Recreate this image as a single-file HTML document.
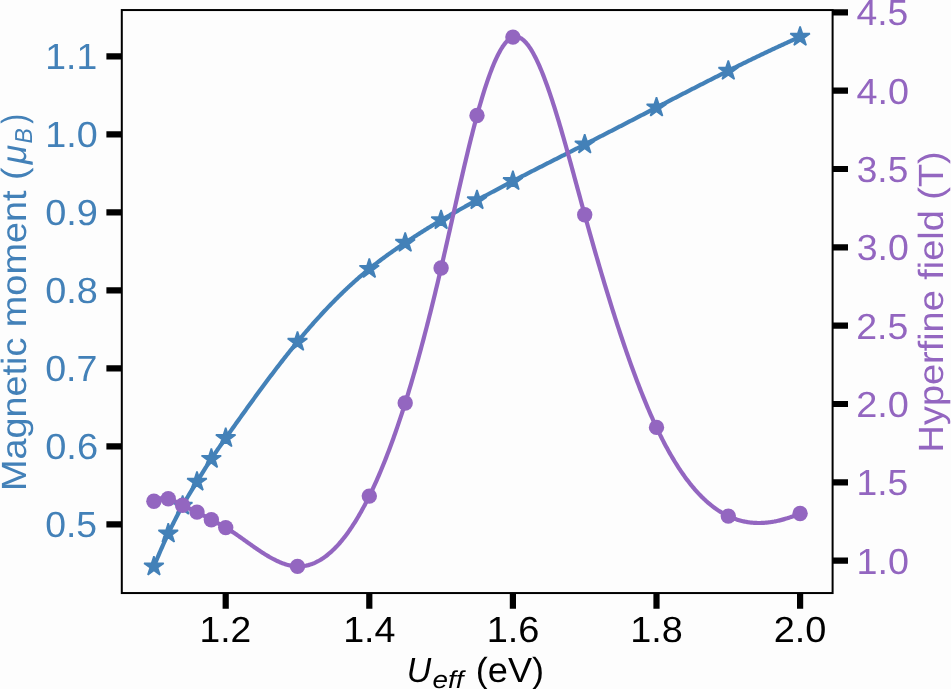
<!DOCTYPE html><html><head><meta charset="utf-8"><style>html,body{margin:0;padding:0;background:#fdfdfd;overflow:hidden}svg{display:block;will-change:transform}text{font-family:"Liberation Sans",sans-serif;font-kerning:none;text-rendering:geometricPrecision}</style></head><body>
<svg width="951" height="689" viewBox="0 0 951 689">
<rect x="0" y="0" width="951" height="689" fill="#fdfdfd"/>
<path d="M153.90,566.50 L154.82,564.22 L155.75,561.97 L156.67,559.74 L157.60,557.53 L158.52,555.34 L159.45,553.18 L160.37,551.03 L161.30,548.91 L162.22,546.81 L163.14,544.73 L164.07,542.67 L164.99,540.63 L165.92,538.61 L166.84,536.62 L167.77,534.64 L168.69,532.69 L169.62,530.76 L170.54,528.85 L171.46,526.95 L172.39,525.08 L173.31,523.23 L174.24,521.40 L175.16,519.59 L176.09,517.80 L177.01,516.03 L177.94,514.27 L178.86,512.54 L179.78,510.83 L180.71,509.14 L181.63,507.46 L182.56,505.81 L183.48,504.17 L184.41,502.56 L185.33,500.96 L186.26,499.37 L187.18,497.80 L188.11,496.24 L189.03,494.70 L189.95,493.16 L190.88,491.64 L191.80,490.12 L192.73,488.61 L193.65,487.10 L194.58,485.60 L195.50,484.10 L196.43,482.60 L197.35,481.10 L198.27,479.60 L199.20,478.11 L200.12,476.61 L201.05,475.12 L201.97,473.63 L202.90,472.14 L203.82,470.66 L204.75,469.19 L205.67,467.72 L206.59,466.25 L207.52,464.80 L208.44,463.36 L209.37,461.92 L210.29,460.50 L211.22,459.09 L212.14,457.69 L213.07,456.30 L213.99,454.92 L214.91,453.56 L215.84,452.20 L216.76,450.85 L217.69,449.51 L218.61,448.17 L219.54,446.85 L220.46,445.52 L221.39,444.21 L222.31,442.89 L223.23,441.58 L224.16,440.28 L225.08,438.97 L226.01,437.66 L226.93,436.36 L227.86,435.06 L228.78,433.75 L229.71,432.45 L230.63,431.14 L231.55,429.84 L232.48,428.54 L233.40,427.24 L234.33,425.94 L235.25,424.64 L236.18,423.34 L237.10,422.04 L238.03,420.74 L238.95,419.45 L239.88,418.15 L240.80,416.86 L241.72,415.57 L242.65,414.27 L243.57,412.98 L244.50,411.69 L245.42,410.41 L246.35,409.12 L247.27,407.84 L248.20,406.55 L249.12,405.27 L250.04,403.99 L250.97,402.71 L251.89,401.44 L252.82,400.16 L253.74,398.89 L254.67,397.62 L255.59,396.35 L256.52,395.08 L257.44,393.82 L258.36,392.56 L259.29,391.30 L260.21,390.04 L261.14,388.78 L262.06,387.53 L262.99,386.28 L263.91,385.03 L264.84,383.78 L265.76,382.54 L266.68,381.30 L267.61,380.06 L268.53,378.82 L269.46,377.59 L270.38,376.36 L271.31,375.14 L272.23,373.91 L273.16,372.69 L274.08,371.47 L275.00,370.26 L275.93,369.05 L276.85,367.84 L277.78,366.63 L278.70,365.43 L279.63,364.23 L280.55,363.04 L281.48,361.84 L282.40,360.66 L283.32,359.47 L284.25,358.29 L285.17,357.11 L286.10,355.94 L287.02,354.77 L287.95,353.61 L288.87,352.44 L289.80,351.29 L290.72,350.13 L291.65,348.98 L292.57,347.84 L293.49,346.70 L294.42,345.56 L295.34,344.43 L296.27,343.30 L297.19,342.17 L298.12,341.05 L299.04,339.94 L299.97,338.83 L300.89,337.72 L301.81,336.62 L302.74,335.52 L303.66,334.43 L304.59,333.34 L305.51,332.26 L306.44,331.18 L307.36,330.11 L308.29,329.04 L309.21,327.97 L310.13,326.91 L311.06,325.85 L311.98,324.80 L312.91,323.75 L313.83,322.71 L314.76,321.67 L315.68,320.64 L316.61,319.61 L317.53,318.59 L318.45,317.57 L319.38,316.56 L320.30,315.55 L321.23,314.54 L322.15,313.54 L323.08,312.54 L324.00,311.55 L324.93,310.57 L325.85,309.58 L326.77,308.61 L327.70,307.63 L328.62,306.67 L329.55,305.70 L330.47,304.75 L331.40,303.79 L332.32,302.84 L333.25,301.90 L334.17,300.96 L335.09,300.03 L336.02,299.10 L336.94,298.17 L337.87,297.25 L338.79,296.34 L339.72,295.43 L340.64,294.52 L341.57,293.62 L342.49,292.73 L343.42,291.84 L344.34,290.95 L345.26,290.07 L346.19,289.19 L347.11,288.32 L348.04,287.46 L348.96,286.59 L349.89,285.74 L350.81,284.89 L351.74,284.04 L352.66,283.20 L353.58,282.36 L354.51,281.53 L355.43,280.70 L356.36,279.88 L357.28,279.06 L358.21,278.25 L359.13,277.44 L360.06,276.64 L360.98,275.85 L361.90,275.05 L362.83,274.27 L363.75,273.48 L364.68,272.71 L365.60,271.94 L366.53,271.17 L367.45,270.41 L368.38,269.65 L369.30,268.90 L370.22,268.15 L371.15,267.41 L372.07,266.68 L373.00,265.94 L373.92,265.22 L374.85,264.50 L375.77,263.78 L376.70,263.06 L377.62,262.36 L378.54,261.65 L379.47,260.95 L380.39,260.25 L381.32,259.56 L382.24,258.87 L383.17,258.19 L384.09,257.51 L385.02,256.83 L385.94,256.16 L386.86,255.49 L387.79,254.82 L388.71,254.16 L389.64,253.50 L390.56,252.84 L391.49,252.19 L392.41,251.54 L393.34,250.89 L394.26,250.25 L395.18,249.61 L396.11,248.97 L397.03,248.33 L397.96,247.69 L398.88,247.06 L399.81,246.43 L400.73,245.81 L401.66,245.18 L402.58,244.56 L403.51,243.93 L404.43,243.32 L405.35,242.70 L406.28,242.08 L407.20,241.47 L408.13,240.85 L409.05,240.24 L409.98,239.63 L410.90,239.03 L411.83,238.42 L412.75,237.82 L413.67,237.21 L414.60,236.61 L415.52,236.01 L416.45,235.42 L417.37,234.82 L418.30,234.23 L419.22,233.64 L420.15,233.05 L421.07,232.46 L421.99,231.87 L422.92,231.29 L423.84,230.71 L424.77,230.13 L425.69,229.55 L426.62,228.97 L427.54,228.40 L428.47,227.82 L429.39,227.25 L430.31,226.68 L431.24,226.12 L432.16,225.55 L433.09,224.99 L434.01,224.43 L434.94,223.87 L435.86,223.31 L436.79,222.76 L437.71,222.21 L438.63,221.66 L439.56,221.11 L440.48,220.56 L441.41,220.02 L442.33,219.48 L443.26,218.94 L444.18,218.40 L445.11,217.86 L446.03,217.33 L446.95,216.80 L447.88,216.27 L448.80,215.74 L449.73,215.21 L450.65,214.68 L451.58,214.16 L452.50,213.64 L453.43,213.12 L454.35,212.60 L455.28,212.08 L456.20,211.56 L457.12,211.05 L458.05,210.54 L458.97,210.02 L459.90,209.51 L460.82,209.00 L461.75,208.49 L462.67,207.98 L463.60,207.48 L464.52,206.97 L465.44,206.46 L466.37,205.96 L467.29,205.46 L468.22,204.95 L469.14,204.45 L470.07,203.95 L470.99,203.45 L471.92,202.95 L472.84,202.45 L473.76,201.95 L474.69,201.45 L475.61,200.95 L476.54,200.45 L477.46,199.95 L478.39,199.45 L479.31,198.95 L480.24,198.46 L481.16,197.96 L482.08,197.46 L483.01,196.97 L483.93,196.47 L484.86,195.97 L485.78,195.48 L486.71,194.98 L487.63,194.48 L488.56,193.99 L489.48,193.49 L490.40,193.00 L491.33,192.51 L492.25,192.01 L493.18,191.52 L494.10,191.03 L495.03,190.53 L495.95,190.04 L496.88,189.55 L497.80,189.06 L498.72,188.57 L499.65,188.08 L500.57,187.59 L501.50,187.10 L502.42,186.61 L503.35,186.12 L504.27,185.63 L505.20,185.14 L506.12,184.66 L507.05,184.17 L507.97,183.68 L508.89,183.20 L509.82,182.71 L510.74,182.23 L511.67,181.74 L512.59,181.26 L513.52,180.78 L514.44,180.30 L515.37,179.81 L516.29,179.33 L517.21,178.85 L518.14,178.37 L519.06,177.89 L519.99,177.41 L520.91,176.94 L521.84,176.46 L522.76,175.98 L523.69,175.50 L524.61,175.03 L525.53,174.55 L526.46,174.07 L527.38,173.60 L528.31,173.12 L529.23,172.65 L530.16,172.17 L531.08,171.70 L532.01,171.23 L532.93,170.75 L533.85,170.28 L534.78,169.81 L535.70,169.34 L536.63,168.86 L537.55,168.39 L538.48,167.92 L539.40,167.45 L540.33,166.98 L541.25,166.51 L542.17,166.04 L543.10,165.57 L544.02,165.10 L544.95,164.63 L545.87,164.16 L546.80,163.69 L547.72,163.22 L548.65,162.75 L549.57,162.29 L550.49,161.82 L551.42,161.35 L552.34,160.88 L553.27,160.41 L554.19,159.95 L555.12,159.48 L556.04,159.01 L556.97,158.54 L557.89,158.08 L558.82,157.61 L559.74,157.14 L560.66,156.67 L561.59,156.21 L562.51,155.74 L563.44,155.27 L564.36,154.80 L565.29,154.34 L566.21,153.87 L567.14,153.40 L568.06,152.93 L568.98,152.47 L569.91,152.00 L570.83,151.53 L571.76,151.06 L572.68,150.60 L573.61,150.13 L574.53,149.66 L575.46,149.19 L576.38,148.72 L577.30,148.25 L578.23,147.79 L579.15,147.32 L580.08,146.85 L581.00,146.38 L581.93,145.91 L582.85,145.44 L583.78,144.97 L584.70,144.50 L585.62,144.03 L586.55,143.56 L587.47,143.09 L588.40,142.62 L589.32,142.15 L590.25,141.67 L591.17,141.20 L592.10,140.73 L593.02,140.26 L593.94,139.79 L594.87,139.31 L595.79,138.84 L596.72,138.37 L597.64,137.89 L598.57,137.42 L599.49,136.95 L600.42,136.47 L601.34,136.00 L602.26,135.52 L603.19,135.05 L604.11,134.58 L605.04,134.10 L605.96,133.63 L606.89,133.15 L607.81,132.67 L608.74,132.20 L609.66,131.72 L610.58,131.25 L611.51,130.77 L612.43,130.30 L613.36,129.82 L614.28,129.34 L615.21,128.87 L616.13,128.39 L617.06,127.91 L617.98,127.44 L618.91,126.96 L619.83,126.48 L620.75,126.01 L621.68,125.53 L622.60,125.05 L623.53,124.57 L624.45,124.10 L625.38,123.62 L626.30,123.14 L627.23,122.66 L628.15,122.18 L629.07,121.71 L630.00,121.23 L630.92,120.75 L631.85,120.27 L632.77,119.79 L633.70,119.31 L634.62,118.84 L635.55,118.36 L636.47,117.88 L637.39,117.40 L638.32,116.92 L639.24,116.44 L640.17,115.96 L641.09,115.48 L642.02,115.00 L642.94,114.53 L643.87,114.05 L644.79,113.57 L645.71,113.09 L646.64,112.61 L647.56,112.13 L648.49,111.65 L649.41,111.17 L650.34,110.69 L651.26,110.21 L652.19,109.74 L653.11,109.26 L654.03,108.78 L654.96,108.30 L655.88,107.82 L656.81,107.34 L657.73,106.86 L658.66,106.38 L659.58,105.90 L660.51,105.42 L661.43,104.95 L662.35,104.47 L663.28,103.99 L664.20,103.51 L665.13,103.03 L666.05,102.55 L666.98,102.07 L667.90,101.60 L668.83,101.12 L669.75,100.64 L670.68,100.16 L671.60,99.68 L672.52,99.21 L673.45,98.73 L674.37,98.25 L675.30,97.77 L676.22,97.30 L677.15,96.82 L678.07,96.34 L679.00,95.87 L679.92,95.39 L680.84,94.91 L681.77,94.44 L682.69,93.96 L683.62,93.48 L684.54,93.01 L685.47,92.53 L686.39,92.06 L687.32,91.58 L688.24,91.11 L689.16,90.63 L690.09,90.16 L691.01,89.68 L691.94,89.21 L692.86,88.73 L693.79,88.26 L694.71,87.79 L695.64,87.31 L696.56,86.84 L697.48,86.37 L698.41,85.90 L699.33,85.42 L700.26,84.95 L701.18,84.48 L702.11,84.01 L703.03,83.54 L703.96,83.07 L704.88,82.60 L705.80,82.13 L706.73,81.66 L707.65,81.19 L708.58,80.72 L709.50,80.25 L710.43,79.78 L711.35,79.31 L712.28,78.85 L713.20,78.38 L714.12,77.91 L715.05,77.45 L715.97,76.98 L716.90,76.51 L717.82,76.05 L718.75,75.58 L719.67,75.12 L720.60,74.65 L721.52,74.19 L722.45,73.73 L723.37,73.26 L724.29,72.80 L725.22,72.34 L726.14,71.88 L727.07,71.41 L727.99,70.95 L728.92,70.49 L729.84,70.03 L730.77,69.57 L731.69,69.11 L732.61,68.66 L733.54,68.20 L734.46,67.74 L735.39,67.28 L736.31,66.83 L737.24,66.37 L738.16,65.91 L739.09,65.46 L740.01,65.00 L740.93,64.55 L741.86,64.10 L742.78,63.64 L743.71,63.19 L744.63,62.74 L745.56,62.29 L746.48,61.83 L747.41,61.38 L748.33,60.93 L749.25,60.48 L750.18,60.04 L751.10,59.59 L752.03,59.14 L752.95,58.69 L753.88,58.25 L754.80,57.80 L755.73,57.36 L756.65,56.91 L757.57,56.47 L758.50,56.02 L759.42,55.58 L760.35,55.14 L761.27,54.70 L762.20,54.26 L763.12,53.82 L764.05,53.38 L764.97,52.94 L765.89,52.50 L766.82,52.06 L767.74,51.62 L768.67,51.19 L769.59,50.75 L770.52,50.32 L771.44,49.88 L772.37,49.45 L773.29,49.02 L774.22,48.59 L775.14,48.15 L776.06,47.72 L776.99,47.29 L777.91,46.86 L778.84,46.44 L779.76,46.01 L780.69,45.58 L781.61,45.16 L782.54,44.73 L783.46,44.31 L784.38,43.88 L785.31,43.46 L786.23,43.04 L787.16,42.62 L788.08,42.19 L789.01,41.77 L789.93,41.36 L790.86,40.94 L791.78,40.52 L792.70,40.10 L793.63,39.69 L794.55,39.27 L795.48,38.86 L796.40,38.44 L797.33,38.03 L798.25,37.62 L799.18,37.21 L800.10,36.80" fill="none" stroke="#4381b8" stroke-width="4.20" stroke-linejoin="round" stroke-linecap="square"/>
<polygon points="153.90,556.20 151.59,563.32 144.10,563.32 150.16,567.72 147.85,574.83 153.90,570.43 159.95,574.83 157.64,567.72 163.70,563.32 156.21,563.32" fill="#4381b8" stroke="#4381b8" stroke-width="1.60" stroke-linejoin="bevel"/>
<polygon points="168.26,523.30 165.95,530.42 158.46,530.42 164.52,534.82 162.21,541.93 168.26,537.53 174.31,541.93 172.00,534.82 178.06,530.42 170.57,530.42" fill="#4381b8" stroke="#4381b8" stroke-width="1.60" stroke-linejoin="bevel"/>
<polygon points="182.62,495.40 180.31,502.52 172.82,502.52 178.88,506.92 176.57,514.03 182.62,509.63 188.67,514.03 186.36,506.92 192.42,502.52 184.93,502.52" fill="#4381b8" stroke="#4381b8" stroke-width="1.60" stroke-linejoin="bevel"/>
<polygon points="196.98,471.40 194.67,478.52 187.18,478.52 193.24,482.92 190.93,490.03 196.98,485.63 203.03,490.03 200.72,482.92 206.78,478.52 199.29,478.52" fill="#4381b8" stroke="#4381b8" stroke-width="1.60" stroke-linejoin="bevel"/>
<polygon points="211.34,448.60 209.03,455.72 201.54,455.72 207.60,460.12 205.29,467.23 211.34,462.83 217.39,467.23 215.08,460.12 221.14,455.72 213.65,455.72" fill="#4381b8" stroke="#4381b8" stroke-width="1.60" stroke-linejoin="bevel"/>
<polygon points="225.70,427.80 223.39,434.92 215.90,434.92 221.96,439.32 219.65,446.43 225.70,442.03 231.75,446.43 229.44,439.32 235.50,434.92 228.01,434.92" fill="#4381b8" stroke="#4381b8" stroke-width="1.60" stroke-linejoin="bevel"/>
<polygon points="297.50,331.50 295.19,338.62 287.70,338.62 293.76,343.02 291.45,350.13 297.50,345.73 303.55,350.13 301.24,343.02 307.30,338.62 299.81,338.62" fill="#4381b8" stroke="#4381b8" stroke-width="1.60" stroke-linejoin="bevel"/>
<polygon points="369.30,258.60 366.99,265.72 359.50,265.72 365.56,270.12 363.25,277.23 369.30,272.83 375.35,277.23 373.04,270.12 379.10,265.72 371.61,265.72" fill="#4381b8" stroke="#4381b8" stroke-width="1.60" stroke-linejoin="bevel"/>
<polygon points="405.20,232.50 402.89,239.62 395.40,239.62 401.46,244.02 399.15,251.13 405.20,246.73 411.25,251.13 408.94,244.02 415.00,239.62 407.51,239.62" fill="#4381b8" stroke="#4381b8" stroke-width="1.60" stroke-linejoin="bevel"/>
<polygon points="441.10,209.90 438.79,217.02 431.30,217.02 437.36,221.42 435.05,228.53 441.10,224.13 447.15,228.53 444.84,221.42 450.90,217.02 443.41,217.02" fill="#4381b8" stroke="#4381b8" stroke-width="1.60" stroke-linejoin="bevel"/>
<polygon points="477.00,189.90 474.69,197.02 467.20,197.02 473.26,201.42 470.95,208.53 477.00,204.13 483.05,208.53 480.74,201.42 486.80,197.02 479.31,197.02" fill="#4381b8" stroke="#4381b8" stroke-width="1.60" stroke-linejoin="bevel"/>
<polygon points="512.90,170.80 510.59,177.92 503.10,177.92 509.16,182.32 506.85,189.43 512.90,185.03 518.95,189.43 516.64,182.32 522.70,177.92 515.21,177.92" fill="#4381b8" stroke="#4381b8" stroke-width="1.60" stroke-linejoin="bevel"/>
<polygon points="584.70,134.20 582.39,141.32 574.90,141.32 580.96,145.72 578.65,152.83 584.70,148.43 590.75,152.83 588.44,145.72 594.50,141.32 587.01,141.32" fill="#4381b8" stroke="#4381b8" stroke-width="1.60" stroke-linejoin="bevel"/>
<polygon points="656.50,97.20 654.19,104.32 646.70,104.32 652.76,108.72 650.45,115.83 656.50,111.43 662.55,115.83 660.24,108.72 666.30,104.32 658.81,104.32" fill="#4381b8" stroke="#4381b8" stroke-width="1.60" stroke-linejoin="bevel"/>
<polygon points="728.30,60.50 725.99,67.62 718.50,67.62 724.56,72.02 722.25,79.13 728.30,74.73 734.35,79.13 732.04,72.02 738.10,67.62 730.61,67.62" fill="#4381b8" stroke="#4381b8" stroke-width="1.60" stroke-linejoin="bevel"/>
<polygon points="800.10,26.50 797.79,33.62 790.30,33.62 796.36,38.02 794.05,45.13 800.10,40.73 806.15,45.13 803.84,38.02 809.90,33.62 802.41,33.62" fill="#4381b8" stroke="#4381b8" stroke-width="1.60" stroke-linejoin="bevel"/>
<path d="M153.90,501.20 L154.82,500.57 L155.75,500.02 L156.67,499.55 L157.60,499.15 L158.52,498.82 L159.45,498.55 L160.37,498.35 L161.30,498.21 L162.22,498.12 L163.14,498.09 L164.07,498.12 L164.99,498.19 L165.92,498.31 L166.84,498.47 L167.77,498.68 L168.69,498.92 L169.62,499.19 L170.54,499.50 L171.46,499.84 L172.39,500.21 L173.31,500.60 L174.24,501.01 L175.16,501.43 L176.09,501.88 L177.01,502.33 L177.94,502.80 L178.86,503.27 L179.78,503.75 L180.71,504.22 L181.63,504.70 L182.56,505.17 L183.48,505.63 L184.41,506.09 L185.33,506.54 L186.26,506.98 L187.18,507.43 L188.11,507.86 L189.03,508.30 L189.95,508.74 L190.88,509.17 L191.80,509.61 L192.73,510.04 L193.65,510.48 L194.58,510.93 L195.50,511.37 L196.43,511.83 L197.35,512.28 L198.27,512.75 L199.20,513.22 L200.12,513.70 L201.05,514.18 L201.97,514.67 L202.90,515.16 L203.82,515.65 L204.75,516.14 L205.67,516.64 L206.59,517.14 L207.52,517.64 L208.44,518.14 L209.37,518.64 L210.29,519.14 L211.22,519.63 L212.14,520.13 L213.07,520.62 L213.99,521.11 L214.91,521.61 L215.84,522.10 L216.76,522.59 L217.69,523.09 L218.61,523.59 L219.54,524.09 L220.46,524.60 L221.39,525.11 L222.31,525.63 L223.23,526.16 L224.16,526.69 L225.08,527.23 L226.01,527.78 L226.93,528.34 L227.86,528.91 L228.78,529.49 L229.71,530.08 L230.63,530.67 L231.55,531.27 L232.48,531.88 L233.40,532.49 L234.33,533.11 L235.25,533.73 L236.18,534.36 L237.10,535.00 L238.03,535.64 L238.95,536.28 L239.88,536.93 L240.80,537.58 L241.72,538.23 L242.65,538.89 L243.57,539.54 L244.50,540.20 L245.42,540.86 L246.35,541.52 L247.27,542.18 L248.20,542.84 L249.12,543.50 L250.04,544.15 L250.97,544.81 L251.89,545.46 L252.82,546.11 L253.74,546.76 L254.67,547.41 L255.59,548.05 L256.52,548.69 L257.44,549.32 L258.36,549.95 L259.29,550.57 L260.21,551.19 L261.14,551.80 L262.06,552.41 L262.99,553.01 L263.91,553.60 L264.84,554.18 L265.76,554.75 L266.68,555.32 L267.61,555.88 L268.53,556.42 L269.46,556.96 L270.38,557.49 L271.31,558.00 L272.23,558.51 L273.16,559.00 L274.08,559.48 L275.00,559.95 L275.93,560.41 L276.85,560.85 L277.78,561.28 L278.70,561.70 L279.63,562.10 L280.55,562.48 L281.48,562.85 L282.40,563.21 L283.32,563.54 L284.25,563.87 L285.17,564.17 L286.10,564.46 L287.02,564.73 L287.95,564.98 L288.87,565.21 L289.80,565.42 L290.72,565.62 L291.65,565.79 L292.57,565.94 L293.49,566.08 L294.42,566.19 L295.34,566.28 L296.27,566.35 L297.19,566.39 L298.12,566.41 L299.04,566.41 L299.97,566.39 L300.89,566.34 L301.81,566.27 L302.74,566.18 L303.66,566.06 L304.59,565.92 L305.51,565.76 L306.44,565.57 L307.36,565.36 L308.29,565.13 L309.21,564.87 L310.13,564.59 L311.06,564.28 L311.98,563.96 L312.91,563.60 L313.83,563.23 L314.76,562.83 L315.68,562.41 L316.61,561.96 L317.53,561.49 L318.45,561.00 L319.38,560.48 L320.30,559.94 L321.23,559.38 L322.15,558.79 L323.08,558.17 L324.00,557.54 L324.93,556.87 L325.85,556.19 L326.77,555.48 L327.70,554.74 L328.62,553.99 L329.55,553.20 L330.47,552.40 L331.40,551.57 L332.32,550.71 L333.25,549.83 L334.17,548.93 L335.09,548.00 L336.02,547.05 L336.94,546.07 L337.87,545.07 L338.79,544.04 L339.72,542.99 L340.64,541.91 L341.57,540.81 L342.49,539.68 L343.42,538.53 L344.34,537.36 L345.26,536.16 L346.19,534.93 L347.11,533.68 L348.04,532.41 L348.96,531.11 L349.89,529.78 L350.81,528.43 L351.74,527.06 L352.66,525.65 L353.58,524.23 L354.51,522.78 L355.43,521.30 L356.36,519.80 L357.28,518.27 L358.21,516.72 L359.13,515.14 L360.06,513.54 L360.98,511.91 L361.90,510.26 L362.83,508.58 L363.75,506.87 L364.68,505.14 L365.60,503.38 L366.53,501.60 L367.45,499.79 L368.38,497.96 L369.30,496.10 L370.22,494.21 L371.15,492.30 L372.07,490.37 L373.00,488.40 L373.92,486.41 L374.85,484.40 L375.77,482.35 L376.70,480.28 L377.62,478.19 L378.54,476.07 L379.47,473.92 L380.39,471.74 L381.32,469.54 L382.24,467.31 L383.17,465.05 L384.09,462.77 L385.02,460.46 L385.94,458.12 L386.86,455.75 L387.79,453.36 L388.71,450.93 L389.64,448.48 L390.56,446.01 L391.49,443.50 L392.41,440.97 L393.34,438.41 L394.26,435.82 L395.18,433.20 L396.11,430.55 L397.03,427.88 L397.96,425.18 L398.88,422.44 L399.81,419.68 L400.73,416.89 L401.66,414.07 L402.58,411.23 L403.51,408.35 L404.43,405.44 L405.35,402.51 L406.28,399.54 L407.20,396.55 L408.13,393.53 L409.05,390.48 L409.98,387.40 L410.90,384.29 L411.83,381.15 L412.75,377.98 L413.67,374.79 L414.60,371.57 L415.52,368.32 L416.45,365.04 L417.37,361.74 L418.30,358.40 L419.22,355.04 L420.15,351.66 L421.07,348.24 L421.99,344.80 L422.92,341.34 L423.84,337.85 L424.77,334.33 L425.69,330.78 L426.62,327.21 L427.54,323.61 L428.47,319.99 L429.39,316.34 L430.31,312.67 L431.24,308.97 L432.16,305.25 L433.09,301.50 L434.01,297.73 L434.94,293.93 L435.86,290.11 L436.79,286.26 L437.71,282.39 L438.63,278.50 L439.56,274.58 L440.48,270.64 L441.41,266.68 L442.33,262.69 L443.26,258.68 L444.18,254.65 L445.11,250.61 L446.03,246.55 L446.95,242.48 L447.88,238.40 L448.80,234.31 L449.73,230.21 L450.65,226.11 L451.58,222.00 L452.50,217.90 L453.43,213.79 L454.35,209.69 L455.28,205.59 L456.20,201.50 L457.12,197.42 L458.05,193.34 L458.97,189.29 L459.90,185.24 L460.82,181.21 L461.75,177.21 L462.67,173.22 L463.60,169.25 L464.52,165.31 L465.44,161.40 L466.37,157.51 L467.29,153.65 L468.22,149.83 L469.14,146.04 L470.07,142.29 L470.99,138.57 L471.92,134.90 L472.84,131.27 L473.76,127.68 L474.69,124.14 L475.61,120.65 L476.54,117.20 L477.46,113.81 L478.39,110.47 L479.31,107.19 L480.24,103.97 L481.16,100.80 L482.08,97.69 L483.01,94.64 L483.93,91.65 L484.86,88.73 L485.78,85.87 L486.71,83.08 L487.63,80.35 L488.56,77.70 L489.48,75.11 L490.40,72.60 L491.33,70.15 L492.25,67.79 L493.18,65.49 L494.10,63.28 L495.03,61.14 L495.95,59.08 L496.88,57.11 L497.80,55.21 L498.72,53.40 L499.65,51.67 L500.57,50.03 L501.50,48.48 L502.42,47.02 L503.35,45.65 L504.27,44.37 L505.20,43.18 L506.12,42.09 L507.05,41.09 L507.97,40.19 L508.89,39.39 L509.82,38.69 L510.74,38.10 L511.67,37.60 L512.59,37.21 L513.52,36.92 L514.44,36.74 L515.37,36.66 L516.29,36.68 L517.21,36.81 L518.14,37.03 L519.06,37.35 L519.99,37.77 L520.91,38.28 L521.84,38.88 L522.76,39.58 L523.69,40.36 L524.61,41.23 L525.53,42.19 L526.46,43.24 L527.38,44.36 L528.31,45.58 L529.23,46.87 L530.16,48.24 L531.08,49.68 L532.01,51.21 L532.93,52.81 L533.85,54.48 L534.78,56.22 L535.70,58.04 L536.63,59.92 L537.55,61.87 L538.48,63.88 L539.40,65.96 L540.33,68.10 L541.25,70.30 L542.17,72.57 L543.10,74.89 L544.02,77.26 L544.95,79.69 L545.87,82.18 L546.80,84.71 L547.72,87.30 L548.65,89.94 L549.57,92.62 L550.49,95.35 L551.42,98.12 L552.34,100.94 L553.27,103.80 L554.19,106.69 L555.12,109.63 L556.04,112.60 L556.97,115.61 L557.89,118.65 L558.82,121.72 L559.74,124.83 L560.66,127.96 L561.59,131.12 L562.51,134.31 L563.44,137.52 L564.36,140.75 L565.29,144.01 L566.21,147.29 L567.14,150.58 L568.06,153.89 L568.98,157.22 L569.91,160.56 L570.83,163.92 L571.76,167.28 L572.68,170.66 L573.61,174.04 L574.53,177.43 L575.46,180.82 L576.38,184.22 L577.30,187.62 L578.23,191.02 L579.15,194.42 L580.08,197.81 L581.00,201.20 L581.93,204.59 L582.85,207.97 L583.78,211.34 L584.70,214.70 L585.62,218.05 L586.55,221.39 L587.47,224.71 L588.40,228.02 L589.32,231.32 L590.25,234.61 L591.17,237.88 L592.10,241.15 L593.02,244.40 L593.94,247.63 L594.87,250.85 L595.79,254.06 L596.72,257.26 L597.64,260.44 L598.57,263.61 L599.49,266.76 L600.42,269.90 L601.34,273.02 L602.26,276.14 L603.19,279.23 L604.11,282.31 L605.04,285.38 L605.96,288.43 L606.89,291.46 L607.81,294.48 L608.74,297.48 L609.66,300.47 L610.58,303.44 L611.51,306.40 L612.43,309.34 L613.36,312.26 L614.28,315.17 L615.21,318.06 L616.13,320.93 L617.06,323.78 L617.98,326.62 L618.91,329.44 L619.83,332.24 L620.75,335.03 L621.68,337.79 L622.60,340.54 L623.53,343.27 L624.45,345.98 L625.38,348.68 L626.30,351.35 L627.23,354.01 L628.15,356.65 L629.07,359.26 L630.00,361.86 L630.92,364.44 L631.85,367.00 L632.77,369.54 L633.70,372.06 L634.62,374.55 L635.55,377.03 L636.47,379.49 L637.39,381.93 L638.32,384.34 L639.24,386.74 L640.17,389.11 L641.09,391.47 L642.02,393.80 L642.94,396.11 L643.87,398.40 L644.79,400.66 L645.71,402.91 L646.64,405.13 L647.56,407.33 L648.49,409.50 L649.41,411.66 L650.34,413.79 L651.26,415.90 L652.19,417.98 L653.11,420.04 L654.03,422.08 L654.96,424.10 L655.88,426.09 L656.81,428.05 L657.73,430.00 L658.66,431.91 L659.58,433.81 L660.51,435.68 L661.43,437.53 L662.35,439.35 L663.28,441.15 L664.20,442.93 L665.13,444.68 L666.05,446.41 L666.98,448.12 L667.90,449.80 L668.83,451.47 L669.75,453.11 L670.68,454.72 L671.60,456.32 L672.52,457.89 L673.45,459.44 L674.37,460.97 L675.30,462.48 L676.22,463.96 L677.15,465.43 L678.07,466.87 L679.00,468.29 L679.92,469.69 L680.84,471.07 L681.77,472.42 L682.69,473.76 L683.62,475.07 L684.54,476.37 L685.47,477.64 L686.39,478.90 L687.32,480.13 L688.24,481.34 L689.16,482.53 L690.09,483.71 L691.01,484.86 L691.94,485.99 L692.86,487.10 L693.79,488.20 L694.71,489.27 L695.64,490.33 L696.56,491.36 L697.48,492.38 L698.41,493.37 L699.33,494.35 L700.26,495.31 L701.18,496.25 L702.11,497.18 L703.03,498.08 L703.96,498.97 L704.88,499.83 L705.80,500.68 L706.73,501.51 L707.65,502.33 L708.58,503.12 L709.50,503.90 L710.43,504.66 L711.35,505.41 L712.28,506.13 L713.20,506.84 L714.12,507.54 L715.05,508.21 L715.97,508.87 L716.90,509.51 L717.82,510.14 L718.75,510.74 L719.67,511.34 L720.60,511.91 L721.52,512.47 L722.45,513.02 L723.37,513.55 L724.29,514.06 L725.22,514.56 L726.14,515.04 L727.07,515.50 L727.99,515.95 L728.92,516.39 L729.84,516.81 L730.77,517.21 L731.69,517.61 L732.61,517.98 L733.54,518.34 L734.46,518.69 L735.39,519.02 L736.31,519.34 L737.24,519.64 L738.16,519.93 L739.09,520.21 L740.01,520.47 L740.93,520.72 L741.86,520.96 L742.78,521.18 L743.71,521.39 L744.63,521.58 L745.56,521.76 L746.48,521.93 L747.41,522.09 L748.33,522.23 L749.25,522.36 L750.18,522.48 L751.10,522.59 L752.03,522.68 L752.95,522.76 L753.88,522.83 L754.80,522.89 L755.73,522.94 L756.65,522.97 L757.57,522.99 L758.50,523.00 L759.42,523.00 L760.35,522.99 L761.27,522.97 L762.20,522.94 L763.12,522.89 L764.05,522.84 L764.97,522.77 L765.89,522.69 L766.82,522.61 L767.74,522.51 L768.67,522.40 L769.59,522.28 L770.52,522.16 L771.44,522.02 L772.37,521.87 L773.29,521.71 L774.22,521.55 L775.14,521.37 L776.06,521.19 L776.99,520.99 L777.91,520.79 L778.84,520.58 L779.76,520.36 L780.69,520.13 L781.61,519.89 L782.54,519.64 L783.46,519.39 L784.38,519.12 L785.31,518.85 L786.23,518.57 L787.16,518.29 L788.08,517.99 L789.01,517.69 L789.93,517.38 L790.86,517.06 L791.78,516.73 L792.70,516.40 L793.63,516.06 L794.55,515.72 L795.48,515.36 L796.40,515.00 L797.33,514.64 L798.25,514.26 L799.18,513.89 L800.10,513.50" fill="none" stroke="#9366c0" stroke-width="4.20" stroke-linejoin="round" stroke-linecap="square"/>
<circle cx="153.90" cy="501.20" r="7.70" fill="#9366c0"/>
<circle cx="168.26" cy="498.80" r="7.70" fill="#9366c0"/>
<circle cx="182.62" cy="505.20" r="7.70" fill="#9366c0"/>
<circle cx="196.98" cy="512.10" r="7.70" fill="#9366c0"/>
<circle cx="211.34" cy="519.70" r="7.70" fill="#9366c0"/>
<circle cx="225.70" cy="527.60" r="7.70" fill="#9366c0"/>
<circle cx="297.50" cy="566.40" r="7.70" fill="#9366c0"/>
<circle cx="369.30" cy="496.10" r="7.70" fill="#9366c0"/>
<circle cx="405.20" cy="403.00" r="7.70" fill="#9366c0"/>
<circle cx="441.10" cy="268.00" r="7.70" fill="#9366c0"/>
<circle cx="477.00" cy="115.50" r="7.70" fill="#9366c0"/>
<circle cx="512.90" cy="37.10" r="7.70" fill="#9366c0"/>
<circle cx="584.70" cy="214.70" r="7.70" fill="#9366c0"/>
<circle cx="656.50" cy="427.40" r="7.70" fill="#9366c0"/>
<circle cx="728.30" cy="516.10" r="7.70" fill="#9366c0"/>
<circle cx="800.10" cy="513.50" r="7.70" fill="#9366c0"/>
<rect x="121.80" y="10.05" width="710.80" height="583.00" fill="none" stroke="#000" stroke-width="2"/>
<path d="M106.40,56.40H121.80M106.40,134.40H121.80M106.40,212.40H121.80M106.40,290.40H121.80M106.40,368.40H121.80M106.40,446.40H121.80M106.40,524.40H121.80M832.60,560.70H848.00M832.60,482.36H848.00M832.60,404.01H848.00M832.60,325.67H848.00M832.60,247.32H848.00M832.60,168.98H848.00M832.60,90.63H848.00M832.60,12.29H848.00M225.70,593.05V608.75M369.30,593.05V608.75M512.90,593.05V608.75M656.50,593.05V608.75M800.10,593.05V608.75" stroke="#000" stroke-width="6.20" fill="none"/>
<text id="L1.1" transform="translate(45.322,68.900) scale(1.0277,1)" font-size="36.300" font-style="normal" fill="#4381b8">1.1</text>
<text id="L1.0" transform="translate(45.292,146.900) scale(1.0389,1)" font-size="36.300" font-style="normal" fill="#4381b8">1.0</text>
<text id="L0.9" transform="translate(45.189,224.900) scale(1.0447,1)" font-size="36.300" font-style="normal" fill="#4381b8">0.9</text>
<text id="L0.8" transform="translate(45.191,302.900) scale(1.0430,1)" font-size="36.300" font-style="normal" fill="#4381b8">0.8</text>
<text id="L0.7" transform="translate(45.201,380.900) scale(1.0361,1)" font-size="36.300" font-style="normal" fill="#4381b8">0.7</text>
<text id="L0.6" transform="translate(45.185,458.900) scale(1.0472,1)" font-size="36.300" font-style="normal" fill="#4381b8">0.6</text>
<text id="L0.5" transform="translate(45.212,536.900) scale(1.0282,1)" font-size="36.300" font-style="normal" fill="#4381b8">0.5</text>
<text id="R1.0" transform="translate(856.463,573.700) scale(1.0389,1)" font-size="36.300" font-style="normal" fill="#9366c0">1.0</text>
<text id="R1.5" transform="translate(856.499,495.355) scale(1.0258,1)" font-size="36.300" font-style="normal" fill="#9366c0">1.5</text>
<text id="R2.0" transform="translate(856.183,417.010) scale(1.0446,1)" font-size="36.300" font-style="normal" fill="#9366c0">2.0</text>
<text id="R2.5" transform="translate(856.207,338.665) scale(1.0318,1)" font-size="36.300" font-style="normal" fill="#9366c0">2.5</text>
<text id="R3.0" transform="translate(856.762,260.320) scale(1.0328,1)" font-size="36.300" font-style="normal" fill="#9366c0">3.0</text>
<text id="R3.5" transform="translate(856.780,181.975) scale(1.0201,1)" font-size="36.300" font-style="normal" fill="#9366c0">3.5</text>
<text id="R4.0" transform="translate(856.394,103.630) scale(1.0403,1)" font-size="36.300" font-style="normal" fill="#9366c0">4.0</text>
<text id="R4.5" transform="translate(856.404,25.285) scale(1.0277,1)" font-size="36.300" font-style="normal" fill="#9366c0">4.5</text>
<text id="X1.2" transform="translate(199.571,641.800) scale(1.0231,1)" font-size="36.300" font-style="normal" fill="#000">1.2</text>
<text id="X1.4" transform="translate(343.128,641.800) scale(1.0385,1)" font-size="36.300" font-style="normal" fill="#000">1.4</text>
<text id="X1.6" transform="translate(486.709,641.800) scale(1.0454,1)" font-size="36.300" font-style="normal" fill="#000">1.6</text>
<text id="X1.8" transform="translate(630.321,641.800) scale(1.0410,1)" font-size="36.300" font-style="normal" fill="#000">1.8</text>
<text id="X2.0" transform="translate(773.648,641.800) scale(1.0446,1)" font-size="36.300" font-style="normal" fill="#000">2.0</text>
<text id="xU" transform="translate(406.869,682.000) scale(0.9671,1)" font-size="35.029" font-style="italic" fill="#000">U</text>
<text id="xeff" transform="translate(432.560,687.500) scale(1.1381,1)" font-size="24.520" font-style="italic" fill="#000">eff</text>
<text id="xeV" transform="translate(475.755,682.000) scale(1.0335,1)" font-size="35.029" font-style="normal" fill="#000">(eV)</text>
<text id="yl1" transform="translate(26.100,491.104) rotate(-90) scale(1.0801,1)" font-size="35.029" font-style="normal" fill="#4381b8">Magnetic moment (</text>
<text id="yl2" transform="translate(26.100,164.155) rotate(-90) scale(1.0123,1)" font-size="35.029" font-style="italic" fill="#4381b8">μ</text>
<text id="yl3" transform="translate(31.900,143.405) rotate(-90) scale(0.9348,1)" font-size="24.520" font-style="italic" fill="#4381b8">B</text>
<text id="yl4" transform="translate(26.100,123.872) rotate(-90) scale(0.8398,1)" font-size="35.029" font-style="normal" fill="#4381b8">)</text>
<text id="yr" transform="translate(942.900,452.409) rotate(-90) scale(1.0819,1)" font-size="35.029" font-style="normal" fill="#9366c0">Hyperfine field (T)</text>
</svg></body></html>
